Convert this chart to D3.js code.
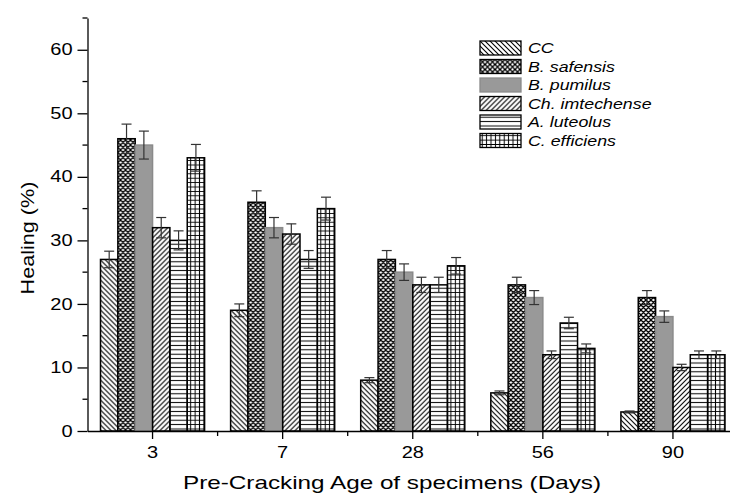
<!DOCTYPE html>
<html>
<head>
<meta charset="utf-8">
<script src="https://cdn.jsdelivr.net/npm/d3@7"></script>
<style>
  body { margin: 0; background: #fff; }
  svg text { font-family: "Liberation Sans", Arial, sans-serif; fill: #000; }
</style>
</head>
<body>
<svg id="chart" width="730" height="496"></svg>
<script>
// Pre-cracking ages (x groups)
const ages = ['3', '7', '28', '56', '90'];
const series = ['CC', 'B. safensis', 'B. pumilus', 'Ch. imtechense', 'A. luteolus', 'C. efficiens'];
const patternIds = ['p-cc', 'p-saf', 'p-pum', 'p-ch', 'p-lut', 'p-eff'];

// Healing (%) per series, one value per age
const ccVals  = [27, 19, 8, 6, 3];
const safVals = [46, 36, 27, 23, 21];
const pumVals = [45, 32, 25, 21, 18];
const chVals  = [32, 31, 23, 12, 10];
const lutVals = [30, 27, 23, 17, 12];
const effVals = [43, 35, 26, 13, 12];

// error bar half-heights
const ccErr  = [1.3, 1.0, 0.4, 0.3, 0.15];
const safErr = [2.3, 1.8, 1.4, 1.2, 1.1];
const pumErr = [2.2, 1.6, 1.3, 1.1, 0.9];
const chErr  = [1.6, 1.6, 1.2, 0.6, 0.5];
const lutErr = [1.5, 1.4, 1.2, 0.9, 0.6];
const effErr = [2.1, 1.8, 1.3, 0.7, 0.6];

const yTicks = [0, 10, 20, 30, 40, 50, 60];

const values = [ccVals, safVals, pumVals, chVals, lutVals, effVals];
const errors = [ccErr, safErr, pumErr, chErr, lutErr, effErr];

const svg = d3.select('#chart');
const margin = { left: 87.5, top: 18, bottom: 431 };

const x0 = d3.scaleBand()
  .domain(ages)
  .range([margin.left, margin.left + 650.5])
  .paddingInner(0.2)
  .paddingOuter(0.1);

const x1 = d3.scaleBand()
  .domain(series)
  .range([0, x0.bandwidth()]);

const y = d3.scaleLinear()
  .domain([0, 65])
  .range([margin.bottom, margin.top]);

// the original's font is drawn wider than Arial — stretch text horizontally
function stretch(sel, k) {
  sel.each(function() {
    const len = this.getComputedTextLength();
    d3.select(this).attr('textLength', len * k).attr('lengthAdjust', 'spacingAndGlyphs');
  });
}

// --- hatch patterns ---
const defs = svg.append('defs');
function pat(id, size) {
  return defs.append('pattern')
    .attr('id', id)
    .attr('patternUnits', 'userSpaceOnUse')
    .attr('width', size).attr('height', size);
}
pat('p-cc', 5).append('path')
  .attr('d', 'M0,0 L5,5 M-1,4 L1,6 M4,-1 L6,1')
  .attr('stroke', '#000').attr('stroke-width', 1.1);

const saf = pat('p-saf', 5);
saf.append('rect').attr('width', 5).attr('height', 5).attr('fill', '#fff');
saf.append('path')
  .attr('d', 'M0,0 L5,5 M-1,4 L1,6 M4,-1 L6,1 M0,5 L5,0 M-1,1 L1,-1 M4,6 L6,4')
  .attr('stroke', '#000').attr('stroke-width', 1.3);

pat('p-pum', 5).append('rect')
  .attr('width', 5).attr('height', 5).attr('fill', '#999');

pat('p-ch', 5).append('path')
  .attr('d', 'M0,5 L5,0 M-1,1 L1,-1 M4,6 L6,4')
  .attr('stroke', '#000').attr('stroke-width', 1.1);

pat('p-lut', 4.4).append('path')
  .attr('d', 'M0,2.2 L4.4,2.2')
  .attr('stroke', '#000').attr('stroke-width', 1);

pat('p-eff', 4.4).append('path')
  .attr('d', 'M0,2.2 L4.4,2.2 M2.2,0 L2.2,4.4')
  .attr('stroke', '#000').attr('stroke-width', 1);

// --- bars ---
const groups = svg.append('g').selectAll('g')
  .data(ages)
  .join('g')
  .attr('transform', d => `translate(${x0(d)},0)`);

const rows = (age, gi) => series.map((s, si) => ({ s, si, v: values[si][gi], e: errors[si][gi] }));

groups.selectAll('rect')
  .data(rows)
  .join('rect')
  .attr('x', d => x1(d.s))
  .attr('y', d => y(d.v))
  .attr('width', x1.bandwidth())
  .attr('height', d => y(0) - y(d.v))
  .attr('fill', d => `url(#${patternIds[d.si]})`)
  .attr('stroke', d => d.si === 2 ? '#8a8a8a' : '#000')
  .attr('stroke-width', 1.5);

// error bars
const eb = groups.selectAll('g.err')
  .data(rows)
  .join('g')
  .attr('class', 'err')
  .attr('stroke', '#333')
  .attr('stroke-width', 1.2);

eb.append('line')
  .attr('x1', d => x1(d.s) + x1.bandwidth() / 2)
  .attr('x2', d => x1(d.s) + x1.bandwidth() / 2)
  .attr('y1', d => y(d.v + d.e))
  .attr('y2', d => y(d.v - d.e));
eb.selectAll('line.cap')
  .data(d => [d.v + d.e, d.v - d.e].map(val => ({ d, val })))
  .join('line')
  .attr('class', 'cap')
  .attr('x1', c => x1(c.d.s) + x1.bandwidth() / 2 - 5)
  .attr('x2', c => x1(c.d.s) + x1.bandwidth() / 2 + 5)
  .attr('y1', c => y(c.val))
  .attr('y2', c => y(c.val));

// --- axes ---
const yAxis = svg.append('g')
  .attr('transform', `translate(${margin.left},0)`)
  .call(d3.axisLeft(y).tickValues(yTicks).tickSize(10).tickSizeOuter(0).tickPadding(5));
yAxis.selectAll('text').style('font-size', '16px').call(stretch, 1.25);
// minor y ticks
svg.append('g').selectAll('line')
  .data([5, 15, 25, 35, 45, 55, 65])
  .join('line')
  .attr('x1', margin.left - 5).attr('x2', margin.left)
  .attr('y1', d => y(d)).attr('y2', d => y(d))
  .attr('stroke', '#000').attr('stroke-width', 1.3);

const xAxis = svg.append('g')
  .attr('transform', `translate(0,${margin.bottom})`)
  .call(d3.axisBottom(x0).tickSize(8).tickSizeOuter(0).tickPadding(8));
xAxis.selectAll('text').style('font-size', '16px').call(stretch, 1.25);
// minor x ticks between groups
svg.append('g').selectAll('line')
  .data(ages.slice(1))
  .join('line')
  .attr('x1', d => x0(d) - x0.step() * 0.1)
  .attr('x2', d => x0(d) - x0.step() * 0.1)
  .attr('y1', margin.bottom).attr('y2', margin.bottom + 5)
  .attr('stroke', '#000').attr('stroke-width', 1.3);

svg.selectAll('.domain, .tick line').attr('stroke', '#000').attr('stroke-width', 1.3);

// axis titles
svg.append('text')
  .attr('transform', `translate(34,238) rotate(-90)`)
  .attr('text-anchor', 'middle')
  .style('font-size', '19px')
  .attr('textLength', 113)
  .attr('lengthAdjust', 'spacingAndGlyphs')
  .text('Healing (%)');

svg.append('text')
  .attr('x', 392).attr('y', 489)
  .attr('text-anchor', 'middle')
  .style('font-size', '19px')
  .attr('textLength', 418)
  .attr('lengthAdjust', 'spacingAndGlyphs')
  .text('Pre-Cracking Age of specimens (Days)');

// --- legend ---
const legend = svg.append('g').attr('transform', 'translate(480,41)');
const row = legend.selectAll('g')
  .data(series)
  .join('g')
  .attr('transform', (d, i) => `translate(0,${i * 18.5})`);
row.append('rect')
  .attr('width', 41).attr('height', 14)
  .attr('fill', (d, i) => `url(#${patternIds[i]})`)
  .attr('stroke', (d, i) => i === 2 ? '#8a8a8a' : '#000')
  .attr('stroke-width', 1.3);
row.append('text')
  .attr('x', 48).attr('y', 12)
  .style('font-size', '14px')
  .style('font-style', 'italic')
  .text(d => d)
  .call(stretch, 1.27);
</script>
</body>
</html>
